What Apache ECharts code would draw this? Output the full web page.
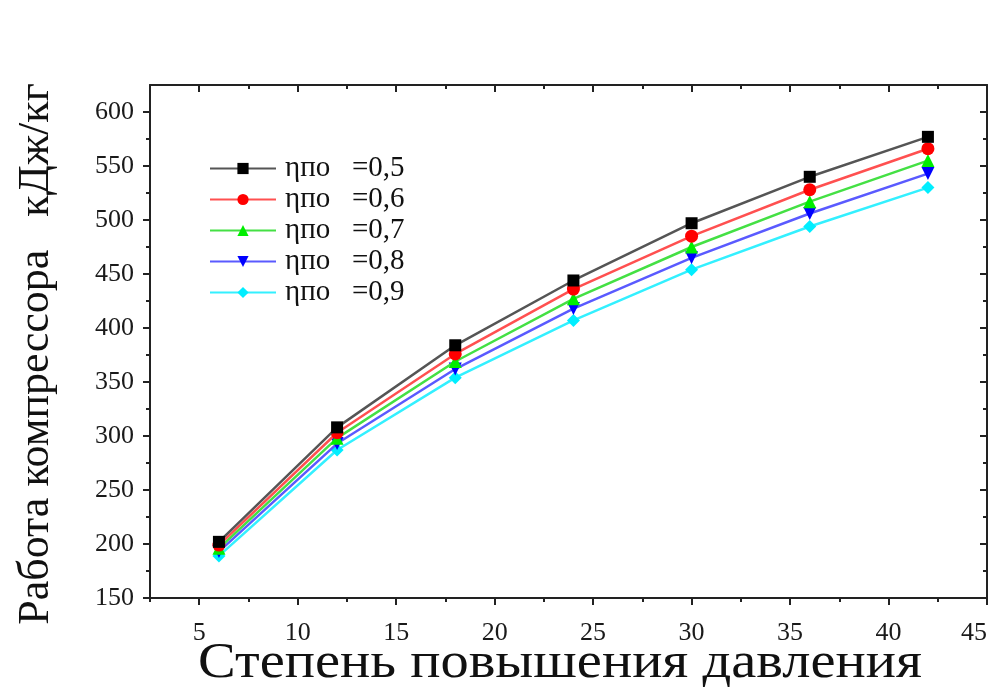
<!DOCTYPE html>
<html lang="ru">
  <head>
    <meta charset="UTF-8" />
    <title>Работа компрессора</title>
    <script src="https://cdn.jsdelivr.net/npm/echarts@6/dist/echarts.min.js"></script>
  </head>
  <body style="margin:0;background:#fff">
    <style>
      #chart {
        width: 997px;
        height: 690px;
      }
    </style>
    <div id="chart"></div>

    <script>
      // pressure ratio
      const ratios = [6, 12, 18, 24, 30, 36, 42];
      // compressor work, kJ/kg, one list per polytropic efficiency
      const eta05 = [202, 308, 384, 444, 497, 540, 577];
      const eta06 = [199, 303, 376, 436, 485, 528, 566];
      const eta07 = [196, 298, 369, 427, 475, 517, 555];
      const eta08 = [193, 293, 362, 418, 465, 506, 543];
      const eta09 = [189, 287, 354, 407, 454, 494, 530];
      const seriesNames = ['ηпо   =0,5', 'ηпо   =0,6', 'ηпо   =0,7', 'ηпо   =0,8', 'ηпо   =0,9'];

      const xMajor = [5, 10, 15, 20, 25, 30, 35, 40, 45];
      const xMinor = [2.5, 7.5, 12.5, 17.5, 22.5, 27.5, 32.5, 37.5, 42.5];
      const yMajor = [150, 200, 250, 300, 350, 400, 450, 500, 550, 600];
      const yMinor = [175, 225, 275, 325, 375, 425, 475, 525, 575];

      const xTitle = 'Степень повышения давления';
      const yTitle = 'Работа компрессора   кДж/кг';

      const serif = '"Liberation Serif", "DejaVu Serif", serif';
      const chart = echarts.init(document.getElementById('chart'));

      function tickAxis(pos, values, len, inside, labels, line) {
        const horiz = pos === 'bottom' || pos === 'top';
        return {
          type: 'value',
          position: pos,
          min: horiz ? 2.5 : 150,
          max: horiz ? 45 : 625,
          axisLine: { show: line, onZero: false, lineStyle: { color: '#222', width: 2 } },
          axisTick: {
            show: true,
            inside: inside,
            length: len,
            customValues: values,
            lineStyle: { color: '#222', width: 2 }
          },
          axisLabel: labels
            ? {
                show: true,
                customValues: values,
                fontFamily: serif,
                fontSize: 26,
                color: '#1a1a1a',
                margin: horiz ? 22 : 16,
                alignMaxLabel: horiz ? 'right' : null
              }
            : { show: false },
          splitLine: { show: false }
        };
      }

      const markers = [
        { color: '#000000', line: '#555555', symbol: 'rect', rotate: 0 },
        { color: '#ff0000', line: '#ff5050', symbol: 'circle', rotate: 0 },
        { color: '#00ee00', line: '#44e044', symbol: 'triangle', rotate: 0 },
        { color: '#0000ff', line: '#5a5aff', symbol: 'triangle', rotate: 180 },
        { color: '#00eeff', line: '#33f0ff', symbol: 'diamond', rotate: 0 }
      ];
      const values = [eta05, eta06, eta07, eta08, eta09];

      chart.setOption({
        animation: false,
        backgroundColor: '#fff',
        grid: { left: 150, right: 10, top: 85, bottom: 92, outerBoundsMode: 'none', containLabel: false },
        legend: {
          orient: 'vertical',
          left: 204,
          top: 149,
          itemWidth: 66,
          itemHeight: 14,
          itemGap: 2,
          textStyle: { fontFamily: serif, fontSize: 29, color: '#111', padding: [0, 0, 0, 4] },
          data: seriesNames
        },
        graphic: [
          {
            type: 'text',
            x: 560,
            y: 664,
            scaleX: 1.13,
            style: {
              text: xTitle,
              fontFamily: serif,
              fontSize: 50,
              fill: '#111',
              textAlign: 'center',
              textVerticalAlign: 'middle'
            }
          },
          {
            type: 'text',
            x: 36,
            y: 354,
            rotation: Math.PI / 2,
            style: {
              text: yTitle,
              fontFamily: serif,
              fontSize: 44,
              fill: '#111',
              textAlign: 'center',
              textVerticalAlign: 'middle'
            }
          }
        ],
        xAxis: [
          tickAxis('bottom', xMajor, 7, false, true, true),
          tickAxis('bottom', xMinor, 4, false, false, false),
          tickAxis('top', xMajor, 7, true, false, true),
          tickAxis('top', xMinor, 4, true, false, false)
        ],
        yAxis: [
          tickAxis('left', yMajor, 7, false, true, true),
          tickAxis('left', yMinor, 4, false, false, false),
          tickAxis('right', yMajor, 7, true, false, true),
          tickAxis('right', yMinor, 4, true, false, false)
        ],
        series: values.map((vals, i) => ({
          name: seriesNames[i],
          type: 'line',
          xAxisIndex: 0,
          yAxisIndex: 0,
          data: ratios.map((r, k) => [r, vals[k]]),
          symbol: markers[i].symbol,
          symbolRotate: markers[i].rotate,
          symbolSize: markers[i].symbol === 'rect' ? 12 : 13,
          itemStyle: { color: markers[i].color },
          lineStyle: { color: markers[i].line, width: 2.5 },
          z: 10 - i
        }))
      });
    </script>
  </body>
</html>
